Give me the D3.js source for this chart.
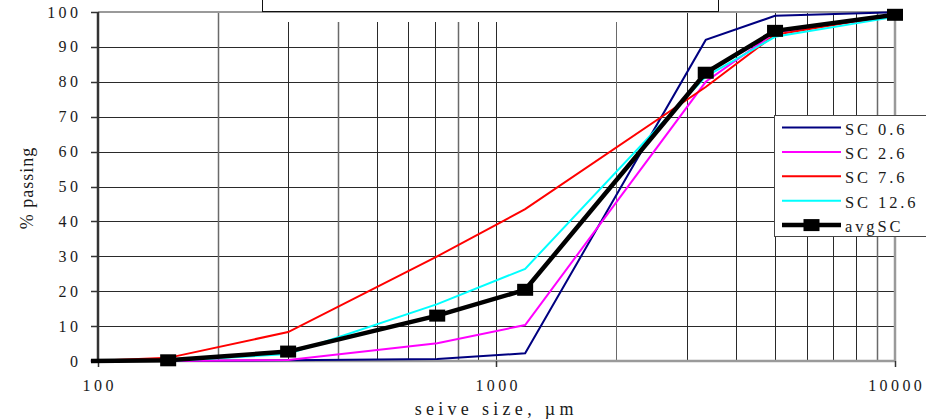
<!DOCTYPE html>
<html>
<head>
<meta charset="utf-8">
<script src="https://cdn.jsdelivr.net/npm/d3@7/dist/d3.min.js"></script>
<style>
  html, body { margin: 0; padding: 0; background: #fff; }
  svg { display: block; }
  text { font-family: "Liberation Serif", "Times New Roman", serif; fill: #1a1a1a; }
</style>
</head>
<body>
<svg id="chart" width="926" height="420"></svg>
<script>
// Sieve sizes (µm) and cumulative % passing for each sample
const sieveSizes = [96, 150, 300, 710, 1180, 3350, 5000, 10000];
const sc06  = [0, 0,   0.2, 0.6,  2.2,  92.0, 98.9, 99.9];
const sc26  = [0, 0,   0.3, 5.1,  10.3, 80.0, 94.1, 98.9];
const sc76  = [0, 0.9, 8.3, 30.0, 43.5, 78.5, 93.5, 99.2];
const sc126 = [0, 0,   2.0, 16.3, 26.4, 81.5, 92.9, 98.6];
const avgSC = [0, 0.2, 2.7, 13.0, 20.4, 82.6, 94.6, 99.2];

const seriesNames  = ["SC 0.6", "SC 2.6", "SC 7.6", "SC 12.6", "avgSC"];
const seriesColors = ["#000080", "#ff00ff", "#ff0000", "#00ffff", "#000000"];

const xMajorTicks = [100, 1000, 10000];
const xTickLabels = ["100", "1000", "10000"];
const yTicks = [0, 10, 20, 30, 40, 50, 60, 70, 80, 90, 100];
const xMinorTicks = [200, 300, 400, 500, 600, 700, 800, 900, 1000,
                     2000, 3000, 4000, 5000, 6000, 7000, 8000, 9000];
// minor gridlines that run all the way up to the top border
const fullHeightMinor = [200, 3000, 4000, 5000, 6000, 7000, 8000, 9000];

const svg = d3.select("#chart");
const pLeft = 98, pRight = 895, pTop = 12, pBottom = 361;

const x = d3.scaleLog().domain([100, 10000]).range([pLeft, pRight]);
const y = d3.scaleLinear().domain([0, 100]).range([pBottom, pTop]);
const snap = v => Math.round(v) + 0.5;

// horizontal gridlines
svg.append("g").selectAll("line")
  .data(yTicks.filter(v => v > 0 && v < 100))
  .join("line")
  .attr("x1", pLeft).attr("x2", pRight)
  .attr("y1", d => snap(y(d))).attr("y2", d => snap(y(d)))
  .attr("stroke", "#2a2a2a").attr("stroke-width", 1);

// vertical gridlines
svg.append("g").selectAll("line")
  .data(xMinorTicks)
  .join("line")
  .attr("x1", d => snap(x(d))).attr("x2", d => snap(x(d)))
  .attr("y1", d => fullHeightMinor.includes(d) ? pTop : pTop + 10)
  .attr("y2", pBottom)
  .attr("stroke", d => [200, 400, 800, 2000, 9000].includes(d) ? "#6a6a6a" : "#2a2a2a")
  .attr("stroke-width", d => [200, 400, 800, 9000].includes(d) ? 1.5 : 1);

// plot border
svg.append("line").attr("x1", pLeft).attr("x2", pRight).attr("y1", pTop).attr("y2", pTop)
  .attr("stroke", "#9a9a9a").attr("stroke-width", 2);
svg.append("line").attr("x1", pRight).attr("x2", pRight).attr("y1", pTop).attr("y2", pBottom)
  .attr("stroke", "#9a9a9a").attr("stroke-width", 2.5);
svg.append("line").attr("x1", pLeft).attr("x2", pRight).attr("y1", pBottom).attr("y2", pBottom)
  .attr("stroke", "#9a9a9a").attr("stroke-width", 2.5);

// box above the plot
svg.append("rect").attr("x", 262.5).attr("y", -20).attr("width", 456).attr("height", 31.5)
  .attr("fill", "#fff").attr("stroke", "#111").attr("stroke-width", 1);

// y axis
const yAxis = svg.append("g");
yAxis.append("line").attr("x1", pLeft).attr("x2", pLeft).attr("y1", pTop).attr("y2", pBottom)
  .attr("stroke", "#333").attr("stroke-width", 2.5);
yAxis.selectAll("line.tick").data(yTicks).join("line").attr("class", "tick")
  .attr("x1", pLeft - 7).attr("x2", pLeft)
  .attr("y1", d => snap(y(d))).attr("y2", d => snap(y(d)))
  .attr("stroke", "#333").attr("stroke-width", 1.5);
const yLs = 3.4;
yAxis.selectAll("text").data(yTicks).join("text")
  .attr("x", 78 + yLs).attr("y", d => y(d) + 5.5)
  .attr("text-anchor", "end")
  .style("font-size", "16px").style("letter-spacing", yLs + "px")
  .text(d => d);

// x axis
const xAxis = svg.append("g");
xAxis.selectAll("line").data(xMajorTicks).join("line")
  .attr("x1", d => snap(x(d))).attr("x2", d => snap(x(d)))
  .attr("y1", pBottom).attr("y2", pBottom + 6)
  .attr("stroke", "#333").attr("stroke-width", 1.5);
const xLs = 3.4;
xAxis.selectAll("text").data(xMajorTicks).join("text")
  .attr("x", d => x(d) + xLs / 2).attr("y", 390.5)
  .attr("text-anchor", "middle")
  .style("font-size", "16px").style("letter-spacing", xLs + "px")
  .text((d, i) => xTickLabels[i]);

// axis titles
svg.append("text").attr("x", 494 + 2.2).attr("y", 415)
  .attr("text-anchor", "middle")
  .style("font-size", "18px").style("letter-spacing", "4.3px")
  .text("seive size, µm");
svg.append("text")
  .attr("transform", "translate(33,188) rotate(-90)")
  .attr("text-anchor", "middle")
  .style("font-size", "18px").style("letter-spacing", "1px")
  .text("% passing");

// series
const allSeries = [sc06, sc26, sc76, sc126, avgSC].map((vals, i) => ({
  name: seriesNames[i],
  color: seriesColors[i],
  width: i === 4 ? 4.5 : 2,
  points: sieveSizes.map((s, j) => ({ s, v: vals[j] }))
}));

const line = d3.line().x(d => x(d.s)).y(d => y(d.v));
svg.append("g").selectAll("path").data(allSeries).join("path")
  .attr("d", d => line(d.points))
  .attr("fill", "none")
  .attr("stroke", d => d.color)
  .attr("stroke-width", d => d.width)
  .attr("stroke-linejoin", "miter");

// avgSC markers (only inside the axis range)
const mW = 16, mH = 12;
svg.append("g").selectAll("rect")
  .data(allSeries[4].points.filter(p => p.s >= 100))
  .join("rect")
  .attr("x", d => x(d.s) - mW / 2).attr("y", d => y(d.v) - mH / 2)
  .attr("width", mW).attr("height", mH)
  .attr("fill", "#000");

// legend
const legend = svg.append("g");
legend.append("rect").attr("x", 774.5).attr("y", 115.5).attr("width", 200).attr("height", 121)
  .attr("fill", "#fff").attr("stroke", "#444").attr("stroke-width", 1);
const rowH = 24.4;
const rows = legend.selectAll("g.row").data(allSeries).join("g").attr("class", "row")
  .attr("transform", (d, i) => `translate(0,${127.5 + i * rowH})`);
rows.append("line").attr("x1", 782).attr("x2", 841).attr("y1", 0).attr("y2", 0)
  .attr("stroke", d => d.color).attr("stroke-width", d => d.width);
rows.filter((d, i) => i === 4).append("rect")
  .attr("x", 811.5 - mW / 2).attr("y", -mH / 2).attr("width", mW).attr("height", mH)
  .attr("fill", "#000");
rows.append("text").attr("x", 845).attr("y", 7)
  .style("font-size", "16.5px").style("letter-spacing", "2.9px")
  .text(d => d.name);
</script>
</body>
</html>
